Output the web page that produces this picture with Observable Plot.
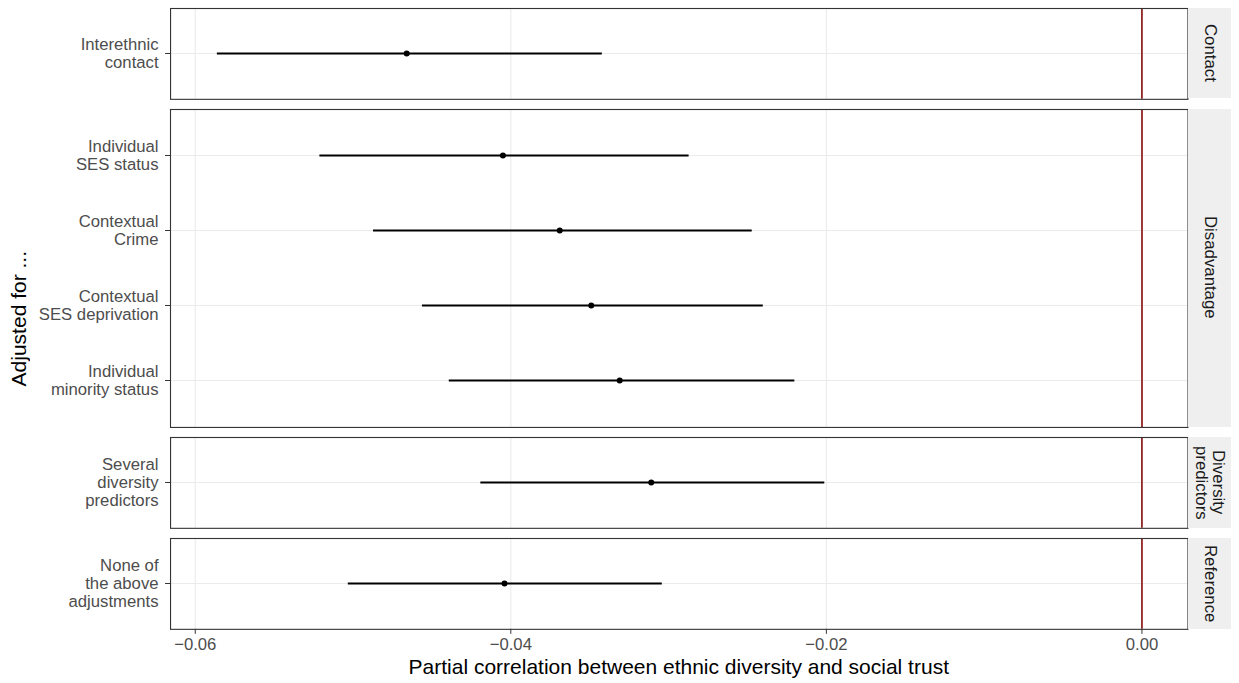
<!DOCTYPE html>
<html><head><meta charset="utf-8">
<script src="https://cdn.jsdelivr.net/npm/d3@7"></script>
<script src="https://cdn.jsdelivr.net/npm/@observablehq/plot@0.6"></script>
<style>
body{margin:0;background:#fff;font-family:"Liberation Sans", Arial, sans-serif;}
#wrap{position:relative;width:1239px;height:683px;overflow:hidden;background:#fff;}
.panel{position:absolute;left:0;}
.strip{position:absolute;background:#EFEFEF;display:flex;align-items:center;justify-content:center;}
.strip span{writing-mode:vertical-rl;font-size:16.8px;color:#1A1A1A;text-align:center;line-height:1.0;white-space:pre;}
.ytitle{position:absolute;writing-mode:vertical-rl;transform:rotate(180deg);font-size:21px;color:#000;white-space:nowrap;}
.xtitle{position:absolute;font-size:21px;color:#000;white-space:nowrap;transform:translateX(-50%);}
</style></head><body><div id="wrap"></div>
<script>
// ---- data ----
const groups = ["Contact", "Disadvantage", "Diversity predictors", "Reference"];
const stripLabels = ["Contact", "Disadvantage", "Diversity\npredictors", "Reference"];
const labels = ["Interethnic\ncontact", "Individual\nSES status", "Contextual\nCrime", "Contextual\nSES deprivation", "Individual\nminority status", "Several\ndiversity\npredictors", "None of\nthe above\nadjustments"];
const group = ["Contact", "Disadvantage", "Disadvantage", "Disadvantage", "Disadvantage", "Diversity predictors", "Reference"];
const estimate = [-0.0466, -0.0405, -0.0369, -0.0349, -0.0331, -0.0311, -0.0404];
const lower = [-0.0586, -0.0521, -0.0487, -0.0456, -0.0439, -0.0419, -0.0503];
const upper = [-0.0342, -0.0287, -0.0247, -0.0240, -0.0220, -0.0201, -0.0304];
const xTicks = [-0.06, -0.04, -0.02, 0.00];
const xTitle = "Partial correlation between ethnic diversity and social trust";
const yTitle = "Adjusted for ...";

const rows = labels.map((l, i) => ({label: l, group: group[i], est: estimate[i], lo: lower[i], hi: upper[i]}));

// ---- layout ----
const W = 1239;
const panelLeft = 170, panelRight = 1187.5;
const stripRight = 1230.5;
const unit = 75.7;          // px per discrete step
const gap = 10.4;
const top0 = 7.5;
const xDomain = [-0.061566, 0.002916];
const font = '"Liberation Sans", Arial, sans-serif';
const wrap = document.getElementById("wrap");

let y = top0;
groups.forEach((g, gi) => {
  const data = rows.filter(r => r.group === g);
  const h = (data.length + 0.2) * unit;
  const isLast = gi === groups.length - 1;
  const mt = 2, mb = isLast ? 53 : 2;
  const marks = [
    Plot.gridX(xTicks, {stroke: "#EBEBEB", strokeOpacity: 1, strokeWidth: 1.1}),
    Plot.gridY({stroke: "#EBEBEB", strokeOpacity: 1, strokeWidth: 1.1}),
    Plot.ruleX([0], {stroke: "#8B1A1A", strokeWidth: 1.7}),
    Plot.ruleY(data, {y: "label", x1: "lo", x2: "hi", stroke: "#000", strokeWidth: 1.9}),
    Plot.dot(data, {x: "est", y: "label", r: 3, fill: "#000", stroke: "none"}),
    Plot.frame({stroke: "#333333", strokeWidth: 1.1}),
    Plot.axisY({tickSize: 5, tickPadding: 7, fontSize: 16.7, fill: "#4D4D4D", stroke: "#333333", lineHeight: 1.06, label: null})
  ];
  if (isLast) {
    marks.push(Plot.axisX(xTicks, {tickSize: 5, tickPadding: 4, fontSize: 16.7, fill: "#4D4D4D", stroke: "#333333", label: null, tickFormat: d3.format(".2f")}));
  }
  const chart = Plot.plot({
    width: W, height: h + mt + mb,
    marginLeft: panelLeft, marginRight: W - panelRight, marginTop: mt, marginBottom: mb,
    x: {domain: xDomain, axis: isLast ? undefined : null},
    y: {type: "point", domain: data.map(d => d.label), padding: 0.6},
    style: {fontFamily: font, overflow: "visible", background: "transparent"},
    marks
  });
  chart.classList.add("panel");
  chart.style.top = (y - mt) + "px";
  wrap.appendChild(chart);

  const s = document.createElement("div");
  s.className = "strip";
  s.style.left = panelLeft + (panelRight - panelLeft) + 0.5 + "px";
  s.style.width = (stripRight - panelRight - 0.5) + "px";
  s.style.top = y + "px";
  s.style.height = h + "px";
  const sp = document.createElement("span");
  sp.textContent = stripLabels[gi];
  s.appendChild(sp);
  wrap.appendChild(s);

  y += h + gap;
});
const bottom = y - gap;

const yt = document.createElement("div");
yt.className = "ytitle";
yt.textContent = yTitle;
wrap.appendChild(yt);
const ytH = yt.getBoundingClientRect().height;
yt.style.left = "7px";
yt.style.top = ((top0 + bottom) / 2 - ytH / 2) + "px";

const xt = document.createElement("div");
xt.className = "xtitle";
xt.textContent = xTitle;
xt.style.left = ((panelLeft + panelRight) / 2) + "px";
xt.style.top = "655px";
wrap.appendChild(xt);
</script>
</body></html>
